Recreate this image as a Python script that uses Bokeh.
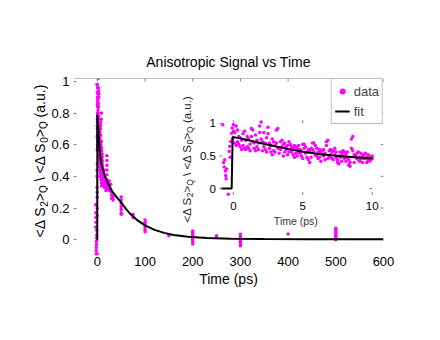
from math import pi
import numpy as np
from bokeh.plotting import figure
from bokeh.layouts import row
from bokeh.models import (Range1d, FixedTicker, Label, Legend, LegendItem, Span,
                          NumeralTickFormatter)
from bokeh.core.properties import value
from bokeh.embed import file_html
from bokeh.resources import INLINE

FONT = "Liberation Sans"
MAGENTA = "#FF00FF"
GRAY = "#808080"

# ---------------- data ----------------
# points before time zero, outside the inset window
base_t = [-1.2, -1.4, -1.6, -1.8, -2.0, -2.2, -2.4, -2.6, -2.8, -3.0, -3.2, -3.4, -3.6]
base_v = [0.06, 0.03, 0.01, -0.01, -0.03, -0.05, -0.07, -0.09, 0.11, 0.14, 0.17, 0.22, 0.08]

# rising edge around time zero
pre_t = [-0.76, -0.70, -0.66, -0.62, -0.58, -0.55, -0.52, -0.48, -0.36, -0.30, -0.25,
         -0.22, -0.18, -0.12, -0.08, -0.05, 0.0, 0.03]
pre_v = [0.98, 0.40, 0.33, 0.44, 0.27, 0.20, 0.15, 0.30, -0.09, 0.57, 0.65,
         0.48, 0.72, 0.85, 0.93, 0.76, 0.98, 0.88]

# first 10 ps (two sets of delays, two scans each)
early_ta = [0.1, 0.3, 0.5, 0.7, 0.9, 1.1, 1.3, 1.5, 1.7, 1.9, 2.1, 2.3, 2.5, 2.7, 2.9,
            3.1, 3.3, 3.5, 3.7, 3.9, 4.1, 4.3, 4.5, 4.7, 4.9, 5.1, 5.3, 5.5, 5.7, 5.9,
            6.1, 6.3, 6.5, 6.7, 6.9, 7.1, 7.3, 7.5, 7.7, 7.9, 8.1, 8.3, 8.5, 8.7, 8.9,
            9.1, 9.3, 9.5, 9.7, 9.9]
early_va1 = [0.86, 0.72, 0.78, 0.66, 0.74, 0.62, 0.80, 0.70, 0.64, 0.96, 0.72, 0.60, 0.84, 0.66, 0.58,
             0.70, 0.62, 0.74, 0.56, 0.66, 0.60, 0.52, 0.64, 0.56, 0.50, 0.62, 0.48, 0.58, 0.70, 0.52,
             0.46, 0.56, 0.50, 0.72, 0.58, 0.46, 0.52, 0.44, 0.56, 0.50, 0.42, 0.36, 0.76, 0.52, 0.46,
             0.42, 0.50, 0.46, 0.52, 0.44]
early_va2 = [0.70, 0.90, 0.64, 0.84, 0.60, 0.76, 0.92, 0.62, 0.74, 0.86, 0.58, 0.70, 0.94, 0.56, 0.72,
             0.90, 0.54, 0.64, 0.70, 0.52, 0.68, 0.62, 0.54, 0.66, 0.58, 0.68, 0.56, 0.40, 0.60, 0.66,
             0.56, 0.42, 0.60, 0.66, 0.48, 0.56, 0.62, 0.40, 0.48, 0.58, 0.52, 0.44, 0.62, 0.40, 0.54,
             0.48, 0.40, 0.54, 0.44, 0.48]
early_tb = [0.2, 0.4, 0.6, 0.8, 1.0, 1.2, 1.4, 1.6, 1.8, 2.0, 2.2, 2.4, 2.6, 2.8, 3.0,
            3.2, 3.4, 3.6, 3.8, 4.0, 4.2, 4.4, 4.6, 4.8, 5.0, 5.2, 5.4, 5.6, 5.8, 6.0,
            6.2, 6.4, 6.6, 6.8, 7.0, 7.2, 7.4, 7.6, 7.8, 8.0, 8.2, 8.4, 8.6, 8.8, 9.0,
            9.2, 9.4, 9.6, 9.8, 10.0]
early_vb1 = [0.96, 0.68, 0.74, 0.62, 0.80, 0.68, 0.90, 0.58, 0.70, 1.02, 0.64, 0.78, 0.62, 0.52, 0.66,
             0.92, 0.60, 0.68, 0.60, 0.72, 0.56, 0.66, 0.50, 0.60, 0.68, 0.54, 0.44, 0.62, 0.70, 0.50,
             0.60, 0.52, 0.44, 0.74, 0.52, 0.58, 0.48, 0.38, 0.54, 0.46, 0.56, 0.40, 0.80, 0.48, 0.44,
             0.54, 0.46, 0.40, 0.50, 0.46]
early_vb2 = [0.66, 0.80, 0.60, 0.88, 0.64, 0.58, 0.72, 0.82, 0.60, 0.76, 0.86, 0.56, 0.70, 0.76, 0.56,
             0.62, 0.72, 0.50, 0.64, 0.56, 0.64, 0.48, 0.62, 0.54, 0.46, 0.64, 0.60, 0.48, 0.56, 0.62,
             0.48, 0.58, 0.54, 0.46, 0.60, 0.44, 0.56, 0.50, 0.42, 0.56, 0.48, 0.34, 0.58, 0.50, 0.56,
             0.46, 0.52, 0.48, 0.42, 0.50]

# later delays
late_t = [11, 11, 12, 12, 13, 13, 14, 14, 15, 15, 16, 18, 18,
          20, 20, 20, 20, 20, 20, 20, 20, 22, 22, 25, 25, 25, 28, 28, 30, 30, 30, 33, 33,
          50, 50, 50, 50, 50, 50, 50, 75, 75,
          100, 100, 100, 100, 100, 100, 150, 150,
          200, 200, 200, 200, 200, 200, 200, 200, 250,
          300, 300, 300, 300, 300, 300, 300, 300, 400,
          500, 500, 500, 500, 500, 500, 500, 500]
late_v = [0.46, 0.38, 0.42, 0.35, 0.40, 0.34, 0.37, 0.44, 0.33, 0.39, 0.36, 0.34, 0.31,
          0.53, 0.50, 0.47, 0.44, 0.41, 0.38, 0.35, 0.32, 0.36, 0.33, 0.37, 0.34, 0.31, 0.35, 0.32, 0.30, 0.28, 0.26, 0.27, 0.25,
          0.27, 0.25, 0.23, 0.21, 0.19, 0.17, 0.16, 0.16, 0.14,
          0.125, 0.11, 0.095, 0.08, 0.065, 0.05, 0.031, 0.025,
          0.055, 0.045, 0.035, 0.02, 0.01, 0.0, -0.015, -0.027, 0.025,
          0.035, 0.02, 0.01, 0.0, -0.01, -0.02, -0.03, -0.038, 0.036,
          0.072, 0.062, 0.052, 0.042, 0.032, 0.022, 0.012, 0.0]

# fitted curve
fit_t = [-0.9, -0.12, -0.05, 0.5, 1, 1.5, 2, 3, 4, 5, 6, 7, 8, 9, 10, 15, 20, 30, 40, 50,
         60, 70, 85, 100, 120, 140, 160, 190, 230, 280, 350, 450, 600]
fit_v = [0, 0, 0.79, 0.77, 0.745, 0.72, 0.695, 0.65, 0.605, 0.565, 0.535, 0.51, 0.49, 0.475,
         0.46, 0.41, 0.37, 0.31, 0.27, 0.235, 0.195, 0.16, 0.12, 0.09, 0.062, 0.043, 0.03,
         0.018, 0.01, 0.006, 0.004, 0.003, 0.003]

# axes
MAIN_X = (-50, 600)
MAIN_Y = (-0.1, 1.018)
main_xticks = [0, 100, 200, 300, 400, 500, 600]
main_yticks = [0, 0.2, 0.4, 0.6, 0.8, 1]
inset_xticks = [0, 5, 10]
inset_xlabels = ["0", "5", "10"]
inset_yticks = [0, 0.5, 1]
inset_ylabels = ["0", "0.5", "1"]
INSET_X = (-1, 10)
INSET_Y = (-0.1, 1.05)

# y label pieces (text, is_subscript)
ylabel_parts = [("<Δ S", False), ("2", True), (">", False), ("Q", True),
                (" \\ <Δ S", False), ("0", True), (">", False), ("Q", True),
                (" (a.u.)", False)]

# ---------------- assemble ----------------
early_t = np.array(pre_t + early_ta + early_ta + early_tb + early_tb)
early_v = np.array(pre_v + early_va1 + early_va2 + early_vb1 + early_vb2)
main_t = np.concatenate([np.array(base_t), early_t, np.array(late_t)])
main_v = np.concatenate([np.array(base_v), early_v, np.array(late_v)])
fit_t_a = np.array(fit_t)
fit_v_a = np.array(fit_v)

W = {'<': 0.584, 'Δ': 0.668, ' ': 0.278, 'S': 0.667, '>': 0.584, '\\': 0.278,
     '(': 0.333, 'a': 0.556, '.': 0.278, 'u': 0.556, ')': 0.333, '0': 0.556,
     '2': 0.556, 'Q': 0.778}


def layout_parts(parts, fs, sfs):
    """Return (text, along-offset, size, is_sub) for each piece of a rotated label."""
    out = []
    pos = 0.0
    for s, is_sub in parts:
        f = sfs if is_sub else fs
        lead = len(s) - len(s.lstrip(" "))
        pos += W[' '] * f * lead
        s2 = s.lstrip(" ")
        out.append((s2, pos, f, is_sub))
        pos += sum(W[c] for c in s2) * f
    return out


LEFT_W = 48
H = 324
TOP, BOTTOM = 78, 255          # frame top / bottom on the page (px)

# ---------------- left strip holding the main y label ----------------
# its y range is expressed as (H - page y) so the frame is aligned with the main plot
lf = figure(width=LEFT_W, height=H, output_backend="svg", toolbar_location=None,
            x_range=Range1d(0, LEFT_W), y_range=Range1d(H - BOTTOM, H - TOP),
            x_axis_type=None, y_axis_type=None,
            min_border_left=0, min_border_right=0, min_border_top=TOP,
            min_border_bottom=H - BOTTOM)
lf.outline_line_color = None
lf.grid.visible = False
lf.background_fill_color = "white"
lf.border_fill_color = "white"

pieces = layout_parts(ylabel_parts, 14, 10)
base_x, start_y = 39.5, H - 237
lf.text(x=[base_x + (3.5 if sb else 0) for (_, _, _, sb) in pieces],
        y=[start_y + off for (_, off, _, _) in pieces],
        text=[t for (t, _, _, _) in pieces],
        text_font_size=[f"{f}px" for (_, _, f, _) in pieces],
        angle=pi / 2, text_align="left", text_baseline="alphabetic",
        text_font=value(FONT), text_color="black")

# ---------------- main plot ----------------
p = figure(width=424 - LEFT_W, height=H, output_backend="svg", toolbar_location=None,
           x_range=Range1d(*MAIN_X), y_range=Range1d(*MAIN_Y),
           min_border_left=72 - LEFT_W, min_border_right=41, min_border_top=TOP,
           min_border_bottom=H - BOTTOM, title="Anisotropic Signal vs Time")
p.outline_line_color = None
p.grid.visible = False
p.background_fill_color = "white"
p.border_fill_color = "white"

p.title.align = "center"
p.title.text_font = FONT
p.title.text_font_size = "14px"
p.title.text_font_style = "normal"
p.title.text_color = "black"
p.title.standoff = 17

xa = p.xaxis[0]
xa.ticker = FixedTicker(ticks=main_xticks)
xa.axis_line_color = None
xa.major_tick_line_color = None
xa.major_tick_in = 0
xa.major_tick_out = 0
xa.minor_tick_line_color = None
xa.major_label_text_font = FONT
xa.major_label_text_font_size = "13px"
xa.major_label_text_color = "black"
xa.major_label_standoff = 1
xa.axis_label = "Time (ps)"
xa.axis_label_text_font = FONT
xa.axis_label_text_font_size = "14px"
xa.axis_label_text_font_style = "normal"
xa.axis_label_text_color = "black"
xa.axis_label_standoff = 2

ya = p.yaxis[0]
ya.ticker = FixedTicker(ticks=main_yticks)
ya.formatter = NumeralTickFormatter(format="0.[0]")
ya.axis_line_color = None
ya.major_tick_in = 3
ya.major_tick_out = 0
ya.major_tick_line_color = GRAY
ya.minor_tick_line_color = None
ya.major_label_text_font = FONT
ya.major_label_text_font_size = "13px"
ya.major_label_text_color = "black"
ya.major_label_standoff = 4

# box top line and inward ticks on top / right
p.add_layout(Span(location=MAIN_Y[1], dimension="width", line_color=GRAY, line_width=1,
                  level="overlay"))
nxt, nyt = len(main_xticks), len(main_yticks)
p.ray(x=main_xticks, y=[MAIN_Y[1]] * nxt, length=3, length_units="screen", angle=-pi / 2,
      line_color=GRAY, line_width=1)
p.ray(x=[MAIN_X[1]] * nyt, y=main_yticks, length=3, length_units="screen", angle=pi,
      line_color=GRAY, line_width=1)

r_data = p.scatter(main_t, main_v, size=3.5, color=MAGENTA, line_color=None)
r_fit = p.line(fit_t_a, fit_v_a, color="black", line_width=2)

legend = Legend(items=[LegendItem(label="data", renderers=[r_data]),
                       LegendItem(label="fit", renderers=[r_fit])],
                location="top_right", margin=0, padding=3, spacing=2,
                glyph_width=15, glyph_height=18, label_height=18, label_width=10,
                label_standoff=4,
                label_text_font=FONT, label_text_font_size="13px",
                border_line_color=GRAY, background_fill_color="white",
                background_fill_alpha=1.0)
p.add_layout(legend)

# ---------------- inset ----------------
sub = p.subplot(x_source=Range1d(*INSET_X), y_source=Range1d(*INSET_Y),
                x_target=Range1d(256.0, 576.4), y_target=Range1d(0.282, 0.755))
mask = (early_t >= INSET_X[0]) & (early_t <= INSET_X[1])
sub.scatter(early_t[mask], early_v[mask], size=3.5, color=MAGENTA, line_color=None)
fmask = (fit_t_a >= INSET_X[0]) & (fit_t_a <= INSET_X[1])
sub.line(fit_t_a[fmask], fit_v_a[fmask], color="black", line_width=2)

nx, ny = len(inset_xticks), len(inset_yticks)
sub.ray(x=inset_xticks, y=[INSET_Y[0]] * nx, length=3, length_units="screen", angle=pi / 2,
        line_color=GRAY, line_width=1)
sub.ray(x=inset_xticks, y=[INSET_Y[1]] * nx, length=3, length_units="screen", angle=-pi / 2,
        line_color=GRAY, line_width=1)
sub.ray(x=[INSET_X[0]] * ny, y=inset_yticks, length=3, length_units="screen", angle=0,
        line_color=GRAY, line_width=1)
sub.ray(x=[INSET_X[1]] * ny, y=inset_yticks, length=3, length_units="screen", angle=pi,
        line_color=GRAY, line_width=1)

sub.text(x=inset_xticks, y=[INSET_Y[0]] * nx, text=inset_xlabels, y_offset=11,
         text_align="center", text_baseline="middle", text_font=value(FONT),
         text_font_size="11.5px", text_color="black")
sub.text(x=[INSET_X[0]] * ny, y=inset_yticks, text=inset_ylabels, x_offset=-3.5,
         text_align="right", text_baseline="middle", text_font=value(FONT),
         text_font_size="11.5px", text_color="black")
sub.text(x=[(INSET_X[0] + INSET_X[1]) / 2], y=[INSET_Y[0]], text=["Time (ps)"], y_offset=26,
         text_align="center", text_baseline="middle", text_font=value(FONT),
         text_font_size="10.5px", text_color="#333333")

# inset y label (inside the main frame)
for (t, off, f, sb) in layout_parts(ylabel_parts, 11.5, 8.5):
    p.add_layout(Label(x=MAIN_X[0], y=MAIN_Y[0], x_units="data", y_units="data",
                       x_offset=113 + (3.5 if sb else 0), y_offset=33 + off,
                       text=t, angle=pi / 2, text_font=FONT, text_font_size=f"{f}px",
                       text_align="left", text_baseline="alphabetic",
                       text_color="#222222"))

layout = row(lf, p, spacing=0)
open("out.html", "w").write(file_html(layout, INLINE))
